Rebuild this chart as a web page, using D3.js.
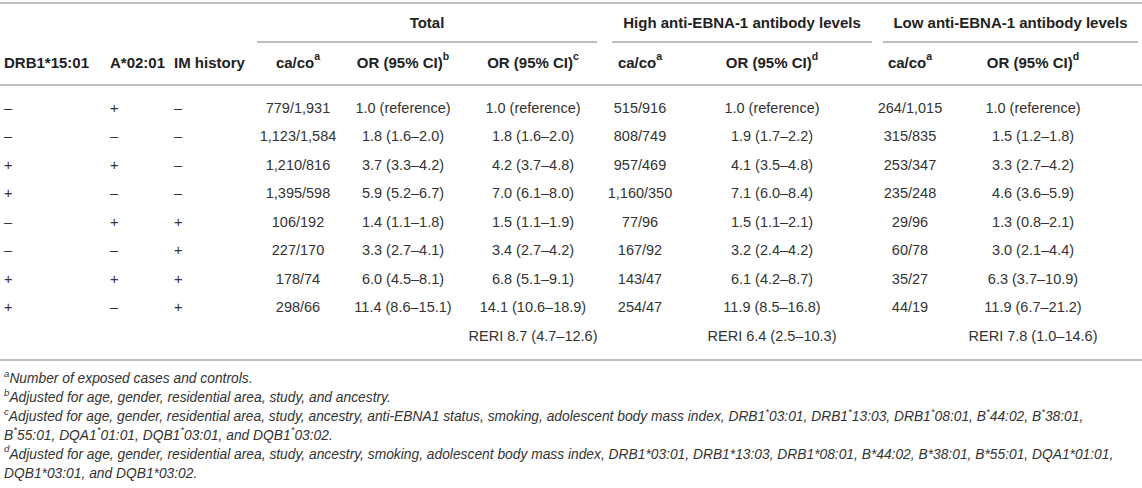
<!DOCTYPE html>
<html>
<head>
<meta charset="utf-8">
<script src="https://cdn.jsdelivr.net/npm/d3@7"></script>
<style>
body{margin:0;background:#fff;}
svg{display:block;font-family:"Liberation Sans",Arial,Helvetica,sans-serif;}
</style>
</head>
<body>
<div id="table"></div>
<script>
const width=1142;
const height=488;

// row values
const drb1=["–","–","+","+","–","–","+","+"];
const a0201=["+","–","+","–","+","–","+","–"];
const imHistory=["–","–","–","–","+","+","+","+"];
const totalCaCo=["779/1,931","1,123/1,584","1,210/816","1,395/598","106/192","227/170","178/74","298/66"];
const totalOrB=["1.0 (reference)","1.8 (1.6–2.0)","3.7 (3.3–4.2)","5.9 (5.2–6.7)","1.4 (1.1–1.8)","3.3 (2.7–4.1)","6.0 (4.5–8.1)","11.4 (8.6–15.1)"];
const totalOrC=["1.0 (reference)","1.8 (1.6–2.0)","4.2 (3.7–4.8)","7.0 (6.1–8.0)","1.5 (1.1–1.9)","3.4 (2.7–4.2)","6.8 (5.1–9.1)","14.1 (10.6–18.9)"];
const highCaCo=["515/916","808/749","957/469","1,160/350","77/96","167/92","143/47","254/47"];
const highOr=["1.0 (reference)","1.9 (1.7–2.2)","4.1 (3.5–4.8)","7.1 (6.0–8.4)","1.5 (1.1–2.1)","3.2 (2.4–4.2)","6.1 (4.2–8.7)","11.9 (8.5–16.8)"];
const lowCaCo=["264/1,015","315/835","253/347","235/248","29/96","60/78","35/27","44/19"];
const lowOr=["1.0 (reference)","1.5 (1.2–1.8)","3.3 (2.7–4.2)","4.6 (3.6–5.9)","1.3 (0.8–2.1)","3.0 (2.1–4.4)","6.3 (3.7–10.9)","11.9 (6.7–21.2)"];
const reriCols=["orC","highOr","lowOr"];
const reriValues=["RERI 8.7 (4.7–12.6)","RERI 6.4 (2.5–10.3)","RERI 7.8 (1.0–14.6)"];

// headers ({x} = superscript)
const groupNames=["Total","High anti-EBNA-1 antibody levels","Low anti-EBNA-1 antibody levels"];
const columnKeys=["drb1","a0201","im","caco","orB","orC","highCaCo","highOr","lowCaCo","lowOr"];
const columnLabels=["DRB1*15:01","A*02:01","IM history","ca/co{a}","OR (95% CI){b}","OR (95% CI){c}","ca/co{a}","OR (95% CI){d}","ca/co{a}","OR (95% CI){d}"];
const footnotes=[
  "{a}Number of exposed cases and controls.",
  "{b}Adjusted for age, gender, residential area, study, and ancestry.",
  "{c}Adjusted for age, gender, residential area, study, ancestry, anti-EBNA1 status, smoking, adolescent body mass index, DRB1{*}03:01, DRB1{*}13:03, DRB1{*}08:01, B{*}44:02, B{*}38:01,",
  "B{*}55:01, DQA1{*}01:01, DQB1{*}03:01, and DQB1{*}03:02.",
  "{d}Adjusted for age, gender, residential area, study, ancestry, smoking, adolescent body mass index, DRB1*03:01, DRB1*13:03, DRB1*08:01, B*44:02, B*38:01, B*55:01, DQA1*01:01,",
  "DQB1*03:01, and DQB1*03:02."
];

const columns={drb1:drb1,a0201:a0201,im:imHistory,caco:totalCaCo,orB:totalOrB,orC:totalOrC,
  highCaCo:highCaCo,highOr:highOr,lowCaCo:lowCaCo,lowOr:lowOr};

//column positions
const colX=d3.scaleOrdinal().domain(columnKeys)
  .range([4,110,174,298,403,533,640,772,910,1033]);
const colAnchor=k=>(k=="drb1"||k=="a0201"||k=="im")?"start":"middle";
const groupSpan=[["caco","orC",257,597],["highCaCo","highOr",612,872],["lowCaCo","lowOr",883,1138]];

const rowY=d3.scaleLinear().domain([0,1]).range([108,136.45]);
const noteY=d3.scaleLinear().domain([0,1]).range([378,396.9]);

const svg=d3.select("#table")
  .append("svg")
  .attr("width",width)
  .attr("height",height)
  .attr("viewBox",`0 0 ${width} ${height}`);

const lineColor="#a9a9a9";

// writes a string, {..} parts become superscripts
function addText(g,str,x,y,size,opts){
  const t=g.append("text")
    .attr("x",x).attr("y",y)
    .attr("font-size",size)
    .attr("dominant-baseline","central")
    .attr("text-anchor",opts.anchor||"start")
    .attr("fill",opts.fill||"#333")
    .attr("font-weight",opts.weight||"normal")
    .attr("font-style",opts.style||"normal");
  const parts=str.split(/(\{[^}]*\})/).filter(p=>p.length);
  const shift=size*0.38;
  let raised=false;
  parts.forEach(p=>{
    const sup=p[0]=="{";
    const ts=t.append("tspan").text(sup?p.slice(1,-1):p);
    if(sup){
      ts.attr("font-size",size*0.7).attr("dy",-shift);
      raised=true;
    }else if(raised){
      ts.attr("dy",shift);
      raised=false;
    }
  });
  return t;
}

//rules
[3,85,360].forEach(y=>{
  svg.append("line").attr("x1",0).attr("x2",width).attr("y1",y).attr("y2",y)
    .attr("stroke",lineColor).attr("stroke-width",1.6);
});

const head=svg.append("g");
groupSpan.forEach((s,i)=>{
  head.append("line").attr("x1",s[2]).attr("x2",s[3]).attr("y1",42).attr("y2",42)
    .attr("stroke",lineColor).attr("stroke-width",1.6);
  addText(head,groupNames[i],(s[2]+s[3])/2,22,15,{anchor:"middle",weight:"bold",fill:"#222"});
});

columnKeys.forEach((k,i)=>{
  addText(head,columnLabels[i],colX(k),62,15,{anchor:colAnchor(k),weight:"bold",fill:"#222"});
});

//body cells
const body=svg.append("g");
columnKeys.forEach(k=>{
  columns[k].forEach((v,i)=>{
    addText(body,v,colX(k),rowY(i),14.5,{anchor:colAnchor(k)});
  });
});
reriCols.forEach((k,i)=>{
  addText(body,reriValues[i],colX(k),rowY(drb1.length),14.5,{anchor:"middle"});
});

//footnotes
const notes=svg.append("g");
footnotes.forEach((f,i)=>{
  addText(notes,f,4,noteY(i),13.8,{style:"italic"});
});
</script>
</body>
</html>
